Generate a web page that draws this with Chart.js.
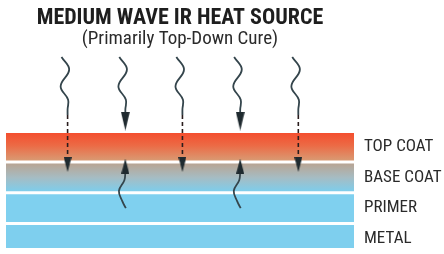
<!DOCTYPE html>
<html><head><meta charset="utf-8">
<script src="https://cdn.jsdelivr.net/npm/chart.js@4.4.1/dist/chart.umd.min.js"></script>
<style>html,body{margin:0;padding:0;background:#fff;overflow:hidden}</style>
</head><body>
<canvas id="c" width="444" height="254"></canvas>
<script>
// ---------- data ----------
const TITLE = 'MEDIUM WAVE IR HEAT SOURCE';
const SUBTITLE = '(Primarily Top-Down Cure)';
const LAYERS = ['TOP COAT', 'BASE COAT', 'PRIMER', 'METAL'];
const LAYER_SPAN = [100, 100, 100, 100];          // each layer covers the full width (%)
const DOWN_COLUMNS = [17.7, 34.3, 50.7, 67.3, 84.0]; // x of incoming IR arrows (% of width)
const DOWN_REACH = ['deep', 'surface', 'deep', 'surface', 'deep'];
const UP_COLUMNS = [34.3, 67.3];                  // x of reflected arrows (% of width)
// incoming wave shape (x offset %, depth in layer units; 0 = top-coat centre)
const WAVE_DX = [-1.75, 0.45, -2.0, 0.15, 0];
const WAVE_Y  = [-2.92, -2.51, -1.97, -1.53, -1.22];
const SURFACE_STOP = -1.10;   // solid arrows end at top surface
const DEEP_SOLID_END = -1.03; // dashed part begins
const DEEP_STOP = 0.36;       // dashed arrows end inside base coat
// reflected wave (x offset %, depth)
const UP_DX = [0, -0.28, -1.85, -0.85, 0.14];
const UP_Y  = [0.836, 1.09, 1.435, 1.78, 2.0];
const HEAD_SURFACE_Y = -0.836;
const HEAD_DEEP_Y = 0.58;
const HEAD_UP_Y = 0.63;
const DEPTH_RANGE = [-3.139, 3.297];

// ---------- styles ----------
const COND = "'Roboto Condensed','Liberation Sans Narrow','Arial Narrow',sans-serif";
const LAYER_GRADIENTS = [
  [[0, '#f44e2e'], [0.45, '#ec6a45'], [1, '#d99a73']],
  [[0, '#b8a493'], [0.5, '#a6bcc3'], [1, '#7ecdeb']],
  [[0, '#7fd0ef'], [1, '#7fd0ef']],
  [[0, '#7ecfee'], [1, '#7ecfee']]
];
const WAVE_COLOR = '#34454c';
const DASH_COLOR = '#2a1d1d';
const HEAD_COLOR = '#1f2a2f';

function headImg(w, h, color) {
  const c = document.createElement('canvas');
  c.width = w; c.height = h;
  const g = c.getContext('2d');
  g.fillStyle = color;
  g.beginPath(); g.moveTo(0, 0); g.lineTo(w, 0); g.lineTo(w / 2, h); g.closePath(); g.fill();
  return c;
}
const BIG_HEAD = headImg(9, 19, HEAD_COLOR);
const SMALL_HEAD = headImg(8, 15, HEAD_COLOR);

function layerFill(ctx) {
  if (ctx.type !== 'data') return 'transparent';
  const chart = ctx.chart, ys = chart.scales.y, i = ctx.dataIndex;
  const stops = LAYER_GRADIENTS[i];
  if (!chart.chartArea || !ys) return stops[0][1];
  const t = ys.getPixelForValue(i - 0.45), b = ys.getPixelForValue(i + 0.45);
  const g = chart.ctx.createLinearGradient(0, t, 0, b);
  stops.forEach(([o, c]) => g.addColorStop(o, c));
  return g;
}

const lineBase = { type: 'line', pointRadius: 0, borderWidth: 1.8, fill: false, order: 1 };
const datasets = [];
datasets.push({
  type: 'bar',
  data: LAYERS.map((_, i) => ({ x: LAYER_SPAN[i], y: i })),
  backgroundColor: layerFill,
  borderWidth: 0,
  barPercentage: 0.9,
  categoryPercentage: 1,
  order: 5
});
const heads = [];
DOWN_COLUMNS.forEach((cx, k) => {
  const pts = WAVE_DX.map((dx, j) => ({ x: cx + dx, y: WAVE_Y[j] }));
  if (DOWN_REACH[k] === 'surface') {
    pts.push({ x: cx, y: SURFACE_STOP });
    datasets.push({ ...lineBase, data: pts, borderColor: WAVE_COLOR, tension: 0.4 });
    heads.push({ x: cx, y: HEAD_SURFACE_Y, img: BIG_HEAD, rot: 0 });
  } else {
    pts.push({ x: cx, y: DEEP_SOLID_END });
    datasets.push({ ...lineBase, data: pts, borderColor: WAVE_COLOR, tension: 0.4 });
    datasets.push({ ...lineBase, data: [{ x: cx, y: DEEP_SOLID_END }, { x: cx, y: DEEP_STOP }],
      borderColor: DASH_COLOR, borderDash: [4, 3], borderWidth: 1.6 });
    heads.push({ x: cx, y: HEAD_DEEP_Y, img: SMALL_HEAD, rot: 0 });
  }
});
UP_COLUMNS.forEach(cx => {
  const pts = UP_DX.map((dx, j) => ({ x: cx + dx, y: UP_Y[j] }));
  datasets.push({ ...lineBase, data: pts, borderColor: WAVE_COLOR, tension: 0.4 });
  heads.push({ x: cx, y: HEAD_UP_Y, img: SMALL_HEAD, rot: 180 });
});
datasets.push({
  type: 'line', showLine: false, order: 0,
  data: heads.map(h => ({ x: h.x, y: h.y })),
  pointRadius: 5,
  pointStyle: ctx => heads[ctx.dataIndex] ? heads[ctx.dataIndex].img : 'circle',
  rotation: ctx => heads[ctx.dataIndex] ? heads[ctx.dataIndex].rot : 0
});

new Chart(document.getElementById('c'), {
  type: 'bar',
  data: { datasets },
  options: {
    indexAxis: 'y',
    animation: false,
    responsive: false,
    devicePixelRatio: 1,
    layout: { padding: { left: 3, right: 0, top: 0, bottom: 0 } },
    plugins: {
      legend: { display: false },
      tooltip: { enabled: false },
      title: { display: true, text: TITLE, fullSize: false, color: '#1e1e1e',
        font: { family: COND, size: 22, weight: 'bold', lineHeight: 1 },
        padding: { top: 7, bottom: 0 } },
      subtitle: { display: true, text: SUBTITLE, fullSize: false, color: '#2b2b2b',
        font: { family: COND, size: 19, lineHeight: 1 },
        padding: { top: 1.2, bottom: 1.1 } }
    },
    scales: {
      x: { type: 'linear', min: 0, max: 100, display: false },
      y: {
        type: 'linear', reverse: true, offset: false, bounds: 'data',
        min: DEPTH_RANGE[0], max: DEPTH_RANGE[1], position: 'right',
        grid: { display: false, drawTicks: false, offset: false }, border: { display: false },
        afterBuildTicks: s => { s.ticks = LAYERS.map((_, i) => ({ value: i })); },
        afterFit: s => { s.width = 90; s.paddingTop = 0; s.paddingBottom = 0; },
        ticks: { padding: 10, color: '#2a2a2a', font: { family: COND, size: 17 },
          callback: v => (LAYERS[v] !== undefined ? LAYERS[v] : '') }
      }
    }
  }
});
</script>
</body></html>
